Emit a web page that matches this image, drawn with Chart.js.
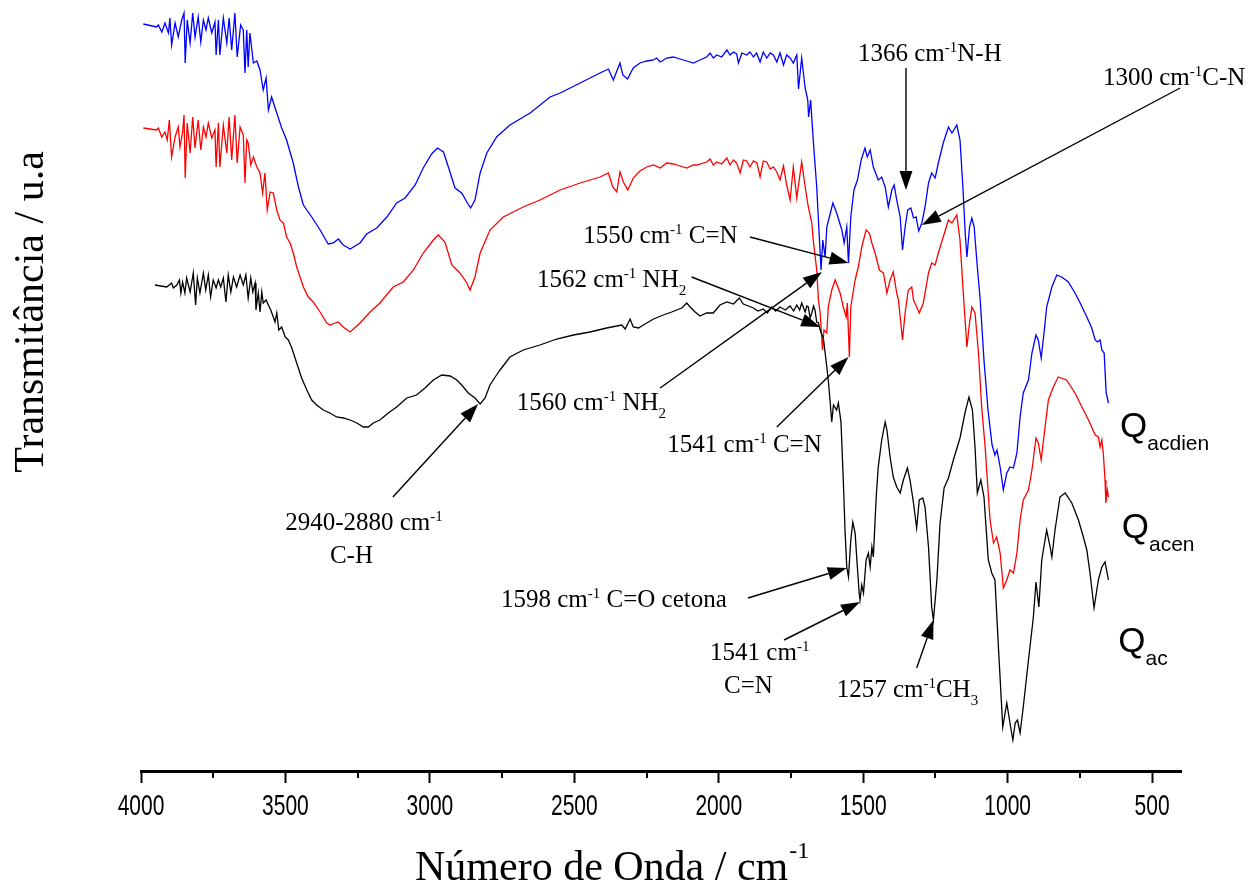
<!DOCTYPE html>
<html>
<head>
<meta charset="utf-8">
<title>FTIR - Qac, Qacen, Qacdien</title>
<script src="https://cdn.jsdelivr.net/npm/chart.js@4.4.1/dist/chart.umd.min.js"></script>
<style>
  html, body { margin: 0; padding: 0; background: #fff; }
  #wrap { width: 1251px; height: 889px; }
</style>
</head>
<body>
<div id="wrap"><canvas id="ftirChart"></canvas></div>
<script>
// FTIR spectra (transmittance, arbitrary units, curves offset vertically)

const xTicks = [4000, 3500, 3000, 2500, 2000, 1500, 1000, 500];
const xMinorTicks = [3750, 3250, 2750, 2250, 1750, 1250, 750];

// Qacdien (blue)
const qacdienWn = [
  3992, 3946, 3940, 3928, 3917, 3905, 3900, 3894, 3882, 3871,
  3859, 3851, 3847, 3840, 3830, 3821, 3813, 3802, 3793, 3784,
  3775, 3767, 3755, 3744, 3740, 3732, 3727, 3715, 3703, 3695,
  3686, 3675, 3667, 3655, 3646, 3640, 3634, 3629, 3623, 3611,
  3599, 3588, 3577, 3567, 3559, 3548, 3530, 3513, 3496, 3473,
  3455, 3438, 3409, 3380, 3352, 3334, 3317, 3300, 3276, 3242,
  3219, 3184, 3149, 3115, 3086, 3051, 3023, 2994, 2974, 2953,
  2936, 2913, 2890, 2872, 2859, 2844, 2826, 2803, 2769, 2723,
  2653, 2584, 2549, 2480, 2411, 2382, 2365, 2342, 2332, 2316,
  2296,
  2273, 2249, 2226, 2215, 2203, 2180, 2157, 2134, 2111, 2088,
  2065, 2042, 2030, 2019, 2007, 1990, 1972, 1961, 1949, 1938,
  1932, 1920, 1903, 1892, 1880, 1869, 1857, 1846, 1834, 1822,
  1811, 1799, 1788, 1776, 1765, 1753, 1742, 1730, 1724, 1713,
  1701,
  1692, 1689, 1682, 1673, 1661, 1652, 1646, 1640, 1632, 1626,
  1605, 1592, 1574, 1566, 1557, 1551, 1543, 1532, 1520, 1507,
  1494, 1486, 1476, 1465, 1448, 1436, 1424, 1413, 1401, 1393,
  1384, 1372, 1364, 1355, 1346, 1335, 1326, 1317, 1308, 1297,
  1286, 1274, 1263, 1251, 1240, 1223, 1205, 1193, 1176, 1165,
  1155, 1147, 1141, 1132, 1124, 1116, 1105, 1095, 1082, 1068,
  1054, 1044, 1037, 1026, 1015, 1003, 992, 980, 968, 957,
  946, 928, 916, 902, 894, 884, 873, 865, 847, 830,
  813, 790, 767, 749, 726, 709, 697, 689, 680, 674,
  666, 659, 651
];
const qacdienT = [
  74.7, 74.4, 74.6, 73.9, 74.8, 73.8, 75.3, 72.6, 74.8, 73.4,
  75.1, 75.8, 70.8, 75.1, 72.8, 75.8, 73.4, 75.4, 72.9, 75.1,
  74.1, 75.3, 73.8, 74.9, 71.6, 75.1, 71.6, 75.3, 72.8, 75.3,
  72.1, 75.8, 71.4, 74.6, 74.1, 69.8, 74.1, 70.4, 73.8, 70.8,
  71.0, 70.1, 68.1, 69.3, 66.1, 67.4, 65.8, 64.3, 63.1, 60.8,
  58.4, 56.6, 55.4, 54.1, 52.7, 52.8, 53.2, 52.6, 52.2, 52.8,
  53.7, 54.3, 55.4, 56.8, 57.3, 58.6, 60.3, 61.7, 62.3, 61.9,
  60.4, 58.3, 57.8, 56.9, 56.3, 57.1, 59.8, 61.8, 63.4, 64.6,
  65.8, 67.4, 67.8, 68.8, 69.8, 70.2, 69.1, 70.8, 69.6, 69.2,
  70.3,
  70.8, 71.0, 71.1, 71.3, 70.9, 71.3, 71.4, 71.2, 71.0, 70.8,
  71.1, 71.4, 71.8, 71.3, 71.6, 71.4, 72.1, 71.6, 71.9, 71.7,
  70.8, 71.8, 71.6, 71.9, 71.4, 71.8, 70.9, 71.9, 71.3, 71.8,
  71.6, 70.9, 71.8, 70.6, 71.6, 71.3, 70.8, 71.6, 68.2, 71.3,
  68.3,
  67.1, 65.4, 67.1, 63.1, 58.4, 53.4, 50.1, 53.1, 51.4, 54.4,
  56.8, 55.8, 54.1, 52.8, 54.4, 50.8, 55.4, 58.1, 59.1, 61.1,
  62.3, 61.4, 62.1, 60.4, 59.1, 59.4, 58.4, 56.4, 58.1, 58.6,
  57.1, 55.4, 52.1, 54.4, 56.1, 56.3, 55.3, 55.4, 54.0, 54.8,
  56.4, 58.8, 59.8, 59.3, 60.8, 62.8, 64.4, 63.8, 64.6, 63.1,
  58.4, 53.8, 51.4, 54.4, 55.3, 54.4, 50.4, 47.1, 41.1, 36.1,
  32.6, 31.6, 32.1, 30.4, 28.1, 29.8, 30.4, 30.3, 31.8, 35.4,
  37.8, 39.1, 41.8, 43.6, 43.1, 41.3, 44.1, 46.4, 48.4, 49.6,
  49.4, 48.9, 47.8, 46.8, 45.4, 44.3, 43.1, 42.9, 43.1, 42.1,
  41.8, 37.8, 36.8
];

// Qacen (red)
const qacenWn = [
  3992, 3946, 3940, 3928, 3917, 3909, 3902, 3894, 3882, 3871,
  3865, 3856, 3851, 3847, 3840, 3830, 3821, 3813, 3802, 3793,
  3784, 3775, 3767, 3755, 3744, 3740, 3732, 3727, 3715, 3703,
  3695, 3686, 3675, 3667, 3657, 3646, 3640, 3634, 3629, 3620,
  3611, 3599, 3588, 3579, 3571, 3563, 3553, 3542, 3530, 3519,
  3507, 3496, 3484, 3473, 3461, 3438, 3421, 3404, 3380, 3357,
  3346, 3328, 3317, 3300, 3276, 3242, 3207, 3173, 3127, 3092,
  3057, 3023, 2988, 2971, 2948, 2924, 2896, 2872, 2861, 2844,
  2826, 2792, 2746, 2677, 2619, 2549, 2480, 2411, 2382, 2367,
  2353, 2342, 2330, 2315, 2296,
  2273, 2249, 2226, 2203, 2180, 2157, 2145, 2111, 2088, 2076,
  2042, 2030, 2019, 2007, 1990, 1972, 1961, 1949, 1938, 1926,
  1915, 1903, 1892, 1880, 1868, 1857, 1846, 1834, 1822, 1811,
  1799, 1788, 1776, 1765, 1753, 1742, 1730, 1713, 1701,
  1690, 1678,
  1673, 1661, 1655, 1649, 1641, 1636, 1626, 1621, 1609, 1597,
  1580, 1569, 1559, 1555, 1548, 1543, 1528, 1517, 1505, 1490,
  1479, 1470, 1459, 1444, 1430, 1418, 1407, 1396, 1384, 1378,
  1364, 1355, 1344, 1332, 1326, 1315, 1306, 1292, 1274, 1263,
  1251, 1240, 1223, 1205, 1193, 1176, 1165, 1155, 1141, 1132,
  1124, 1113, 1101, 1090, 1078, 1061, 1049, 1038, 1026, 1015,
  1003, 992, 980, 968, 957, 946, 928, 916, 902, 894,
  884, 873, 859, 842, 825, 796, 767, 743, 720, 697,
  686, 680, 674, 669, 663, 660, 655, 651
];
const qacenT = [
  64.3, 64.1, 64.3, 63.4, 63.9, 63.1, 65.1, 61.4, 63.4, 64.4,
  62.4, 63.9, 65.6, 59.3, 64.8, 61.8, 65.4, 62.3, 65.1, 62.1,
  64.4, 63.4, 64.8, 63.3, 64.1, 60.4, 64.8, 60.4, 64.6, 61.8,
  65.4, 61.1, 65.6, 60.8, 64.4, 63.6, 58.8, 63.1, 62.8, 60.6,
  61.4, 60.4, 59.8, 57.8, 59.8, 56.1, 57.9, 57.8, 56.1, 55.1,
  54.8, 53.4, 52.8, 51.8, 50.4, 48.4, 47.4, 46.9, 45.9, 44.8,
  44.6, 44.8, 44.9, 44.4, 43.9, 44.8, 45.9, 46.8, 48.4, 48.9,
  50.1, 51.8, 53.1, 53.6, 52.9, 50.6, 49.8, 48.8, 48.1, 49.4,
  51.8, 54.1, 55.4, 56.4, 57.1, 58.1, 58.8, 59.4, 59.8, 58.4,
  57.9, 59.9, 58.9, 58.1, 59.3,
  60.0, 60.4, 60.6, 60.3, 60.8, 60.7, 60.6, 60.3, 60.6, 60.6,
  60.9, 61.2, 60.6, 60.9, 60.7, 61.3, 60.6, 61.1, 60.8, 59.8,
  61.1, 61.0, 60.4, 61.0, 60.8, 59.4, 61.0, 60.9, 60.2, 60.4,
  59.9, 59.1, 60.5, 58.6, 57.1, 60.4, 57.3, 60.9, 58.4,
  56.4, 54.8,
  53.1, 50.1, 47.1, 45.8, 42.1, 44.1, 43.8, 46.4, 48.1, 49.1,
  47.8, 46.4, 45.4, 46.8, 41.4, 46.4, 49.1, 50.4, 52.4, 54.1,
  53.8, 52.8, 51.8, 50.1, 49.8, 47.8, 49.1, 49.9, 47.8, 47.1,
  43.1, 45.8, 48.1, 48.4, 47.1, 46.4, 45.8, 46.8, 49.8, 50.8,
  50.6, 51.8, 53.4, 55.1, 54.8, 55.6, 53.1, 48.4, 42.4, 44.8,
  46.4, 45.8, 41.8, 36.4, 32.4, 25.1, 22.8, 23.4, 21.8, 18.3,
  19.1, 20.1, 19.8, 21.8, 25.1, 27.1, 28.1, 30.1, 33.3, 32.8,
  31.1, 33.8, 37.1, 38.4, 39.4, 39.1, 37.8, 36.4, 35.1, 33.6,
  33.4, 32.4, 33.1, 31.8, 29.1, 26.8, 28.1, 27.4
];

// Qac (black)
const qacWn = [
  3952, 3911, 3894, 3888, 3876, 3867, 3862, 3856, 3848, 3842,
  3830, 3819, 3811, 3805, 3796, 3784, 3776, 3767, 3759, 3750,
  3740, 3732, 3724, 3715, 3706, 3698, 3689, 3680, 3669, 3657,
  3646, 3637, 3629, 3620, 3613, 3605, 3602, 3594, 3588, 3582,
  3577, 3567, 3559, 3551, 3542, 3536, 3530, 3523, 3513, 3501,
  3490, 3478, 3461, 3444, 3426, 3409, 3392, 3369, 3346, 3323,
  3300, 3276, 3253, 3230, 3213, 3196, 3173, 3144, 3115, 3080,
  3046, 3017, 2988, 2959, 2930, 2907, 2890, 2867, 2844, 2826,
  2809, 2792, 2774, 2757, 2723, 2677, 2619, 2561, 2503, 2446,
  2388, 2336, 2324, 2307, 2296, 2278, 2261, 2226, 2192, 2163,
  2128, 2111, 2099, 2082, 2065, 2042, 2019, 1996, 1972, 1949,
  1929, 1915,
  1880, 1864, 1846, 1832, 1817, 1803, 1788, 1770, 1753, 1741,
  1730, 1720, 1713, 1701, 1695, 1690, 1684, 1678, 1672, 1667,
  1661, 1655,
  1647, 1638, 1626, 1621, 1615, 1609,
  1603, 1592, 1586, 1577, 1569, 1563, 1557, 1551, 1543, 1536,
  1528, 1522, 1514, 1511, 1505, 1499, 1490, 1482, 1476, 1470,
  1465, 1455, 1448, 1436, 1424, 1418, 1407, 1396, 1384, 1372,
  1361, 1347, 1338, 1326, 1315, 1306, 1294, 1286, 1274, 1263,
  1257, 1245, 1234, 1220, 1205, 1188, 1165, 1147, 1134, 1122,
  1113, 1105, 1093, 1082, 1067, 1055, 1044, 1032, 1017, 1003,
  992, 982, 974, 966, 957, 946, 928, 911, 902, 892,
  882, 865, 853, 847, 836, 819, 801, 778, 755, 738,
  726, 715, 701, 686, 674, 663, 651
];
const qacT = [
  48.6, 48.4, 48.8, 48.3, 48.6, 49.1, 47.8, 48.9, 47.8, 49.3,
  47.9, 49.8, 46.6, 49.3, 47.8, 49.8, 48.1, 49.6, 47.4, 49.1,
  48.3, 49.1, 48.4, 49.3, 46.9, 49.6, 47.9, 49.4, 48.4, 49.6,
  48.6, 49.6, 47.3, 49.3, 47.9, 48.8, 46.1, 47.8, 45.9, 47.9,
  46.8, 47.1, 46.6, 46.1, 45.4, 44.9, 45.8, 44.1, 44.4, 43.4,
  43.1, 42.3, 40.8, 39.3, 38.1, 37.1, 36.6, 36.1, 35.8, 35.4,
  35.3, 35.1, 34.8, 34.4, 34.4, 34.8, 35.1, 35.8, 36.4, 37.3,
  37.6, 38.3, 39.1, 39.6, 39.5, 39.1, 38.6, 37.8, 37.3, 36.7,
  37.3, 38.6, 39.4, 40.1, 41.4, 42.1, 42.6, 43.2, 43.6, 43.9,
  44.3, 44.6, 44.2, 45.2, 44.4, 44.3, 44.6, 45.2, 45.6, 45.9,
  46.3, 46.8, 46.4, 45.9, 45.5, 45.8, 45.8, 46.6, 46.9, 46.7,
  47.3, 46.7,
  46.3, 46.0, 46.2, 45.8, 46.4, 46.0, 46.4, 46.1, 46.5, 46.0,
  46.6, 46.1, 46.8, 45.9, 46.5, 46.4, 45.3, 45.8, 46.5, 46.1,
  44.9, 44.8,
  43.9, 43.3, 40.4, 39.1, 37.1, 34.9,
  36.6, 36.1, 36.8, 34.9, 29.1, 24.1, 20.4, 19.4, 23.1, 24.9,
  23.8, 21.1, 17.8, 17.1, 18.6, 17.8, 21.1, 21.8, 20.4, 22.4,
  21.4, 27.4, 30.4, 33.1, 34.9, 34.1, 31.4, 29.4, 28.4, 27.8,
  29.1, 30.3, 29.1, 26.8, 24.3, 27.1, 27.3, 26.4, 22.4, 16.4,
  15.1, 19.1, 24.8, 28.3, 29.3, 31.1, 33.3, 35.9, 37.4, 36.1,
  32.4, 27.8, 29.1, 27.4, 21.1, 19.8, 19.1, 12.4, 4.4, 6.8,
  4.8, 3.1, 4.8, 5.1, 3.8, 6.4, 11.1, 15.4, 18.9, 16.4,
  21.1, 24.1, 22.4, 21.4, 24.1, 27.4, 27.8, 26.8, 25.1, 23.4,
  22.1, 19.8, 16.3, 19.1, 20.4, 20.9, 19.1
];

// band assignments: text anchored at [wavenumber, T] (left edge, baseline)
const bandLabels = [
  { at: [1518, 71.0], parts: [['1366 cm'], ['-1', 'sup'], ['N-H']] },
  { at: [670, 68.6], parts: [['1300 cm'], ['-1', 'sup'], ['C-N']] },
  { at: [2469, 52.8], parts: [['1550 cm'], ['-1', 'sup'], [' C=N']] },
  { at: [2629, 48.4], parts: [['1562 cm'], ['-1', 'sup'], [' NH'], ['2', 'sub']] },
  { at: [2699, 36.1], parts: [['1560 cm'], ['-1', 'sup'], [' NH'], ['2', 'sub']] },
  { at: [2178, 31.9], parts: [['1541 cm'], ['-1', 'sup'], [' C=N']] },
  { at: [3501, 24.1], parts: [['2940-2880 cm'], ['-1', 'sup']] },
  { at: [3346, 20.8], parts: [['C-H']] },
  { at: [2754, 16.4], parts: [['1598 cm'], ['-1', 'sup'], [' C=O cetona']] },
  { at: [2030, 11.1], parts: [['1541 cm'], ['-1', 'sup']] },
  { at: [1982, 7.8], parts: [['C=N']] },
  { at: [1592, 7.4], parts: [['1257 cm'], ['-1', 'sup'], ['CH'], ['3', 'sub']] }
];

// arrows: tail -> head, both in [wavenumber, T]
const bandArrows = [
  { from: [1352, 70.3], to: [1352, 58.1] },
  { from: [403, 68.3], to: [1297, 54.6] },
  { from: [1892, 53.4], to: [1551, 50.8] },
  { from: [2094, 49.4], to: [1649, 44.4] },
  { from: [2203, 38.3], to: [1643, 49.9] },
  { from: [1799, 34.4], to: [1551, 41.4] },
  { from: [3128, 27.4], to: [2833, 36.7] },
  { from: [1899, 17.3], to: [1557, 20.3] },
  { from: [1774, 13.1], to: [1511, 16.9] },
  { from: [1315, 10.3], to: [1257, 15.1] }
];

// sample names next to the curve ends
const sampleNames = [
  { at: [611, 33.4], main: 'Q', sub: 'acdien' },
  { at: [605, 23.3], main: 'Q', sub: 'acen' },
  { at: [617, 11.9], main: 'Q', sub: 'ac' }
];

const SERIF = '"Liberation Serif", "Times New Roman", serif';
const SANS = '"Liberation Sans", Arial, sans-serif';

function toPoints(wn, t) {
  return wn.map((w, i) => ({ x: w, y: t[i] }));
}

// draws text with superscript / subscript pieces, returns end x
function drawRich(ctx, x, y, parts, size) {
  const small = Math.round(size * 0.6);
  let cx = x;
  parts.forEach(([text, kind]) => {
    let dy = 0;
    if (kind === 'sup') {
      ctx.font = small + 'px ' + SERIF;
      dy = -size * 0.38;
    } else if (kind === 'sub') {
      ctx.font = small + 'px ' + SERIF;
      dy = size * 0.3;
    } else {
      ctx.font = size + 'px ' + SERIF;
    }
    ctx.fillText(text, cx, y + dy);
    cx += ctx.measureText(text).width;
  });
  return cx;
}

function drawArrow(ctx, x1, y1, x2, y2) {
  const ang = Math.atan2(y2 - y1, x2 - x1);
  const len = 19, half = 6.5;
  const bx = x2 - len * Math.cos(ang);
  const by = y2 - len * Math.sin(ang);
  ctx.beginPath();
  ctx.moveTo(x1, y1);
  ctx.lineTo(bx, by);
  ctx.lineWidth = 1.4;
  ctx.stroke();
  ctx.beginPath();
  ctx.moveTo(x2, y2);
  ctx.lineTo(bx + half * Math.sin(ang), by - half * Math.cos(ang));
  ctx.lineTo(bx - half * Math.sin(ang), by + half * Math.cos(ang));
  ctx.closePath();
  ctx.fill();
}

const decorations = {
  id: 'decorations',
  afterDraw(chart) {
    const { ctx, chartArea, scales } = chart;
    const px = v => scales.x.getPixelForValue(v);
    const py = v => scales.y.getPixelForValue(v);
    ctx.save();
    ctx.fillStyle = '#000';
    ctx.strokeStyle = '#000';

    // minor ticks
    ctx.lineWidth = 2;
    xMinorTicks.forEach(v => {
      const x = Math.round(px(v));
      ctx.beginPath();
      ctx.moveTo(x, chartArea.bottom);
      ctx.lineTo(x, chartArea.bottom + 7);
      ctx.stroke();
    });

    // tick labels, condensed sans like the original export
    ctx.textAlign = 'center';
    ctx.textBaseline = 'alphabetic';
    scales.x.ticks.forEach(t => {
      ctx.save();
      ctx.translate(px(t.value), chartArea.bottom + 44);
      ctx.scale(0.7, 1);
      ctx.font = '30px ' + SANS;
      ctx.fillText(String(t.value), 0, 0);
      ctx.restore();
    });

    // axis titles
    ctx.textAlign = 'left';
    const xt = 'Número de Onda / cm';
    ctx.font = '42px ' + SERIF;
    const xtw = ctx.measureText(xt).width;
    const xtLeft = 415;
    ctx.fillText(xt, xtLeft, 880);
    ctx.font = '24px ' + SERIF;
    ctx.fillText('-1', xtLeft + xtw + 1, 858);

    ctx.save();
    ctx.translate(43, 312);
    ctx.rotate(-Math.PI / 2);
    ctx.textAlign = 'center';
    ctx.font = '42px ' + SERIF;
    ctx.fillText('Transmitância / u.a', 0, 0);
    ctx.restore();

    // band assignments
    bandArrows.forEach(a => {
      drawArrow(ctx, px(a.from[0]), py(a.from[1]), px(a.to[0]), py(a.to[1]));
    });
    bandLabels.forEach(l => {
      drawRich(ctx, px(l.at[0]), py(l.at[1]), l.parts, 25);
    });

    // sample names
    sampleNames.forEach(s => {
      const x = px(s.at[0]), y = py(s.at[1]);
      ctx.font = '35px ' + SANS;
      ctx.fillText(s.main, x, y);
      const w = ctx.measureText(s.main).width;
      ctx.font = '21px ' + SANS;
      ctx.fillText(s.sub, x + w, y + 13);
    });
    ctx.restore();
  }
};

const ctx = document.getElementById('ftirChart');
new Chart(ctx, {
  type: 'line',
  data: {
    datasets: [
      {
        label: 'Qac',
        data: toPoints(qacWn, qacT),
        borderColor: '#000000',
        borderWidth: 1.3,
        pointRadius: 0,
        tension: 0
      },
      {
        label: 'Qacen',
        data: toPoints(qacenWn, qacenT),
        borderColor: '#ff0000',
        borderWidth: 1.3,
        pointRadius: 0,
        tension: 0
      },
      {
        label: 'Qacdien',
        data: toPoints(qacdienWn, qacdienT),
        borderColor: '#0000ff',
        borderWidth: 1.3,
        pointRadius: 0,
        tension: 0
      }
    ]
  },
  options: {
    responsive: true,
    maintainAspectRatio: false,
    animation: false,
    devicePixelRatio: 1,
    layout: { padding: { left: 141, right: 70, top: 0, bottom: 0 } },
    plugins: {
      legend: { display: false },
      tooltip: { enabled: false }
    },
    scales: {
      x: {
        type: 'linear',
        reverse: true,
        min: 400,
        max: 4000,
        afterBuildTicks: scale => {
          scale.ticks = xTicks.map(v => ({ value: v }));
        },
        afterFit: scale => {
          scale.height = 118;
        },
        ticks: { display: false },
        grid: {
          drawOnChartArea: false,
          drawTicks: true,
          tickLength: 12,
          tickWidth: 2,
          tickColor: '#000'
        },
        border: { display: true, color: '#000', width: 3 }
      },
      y: {
        display: false,
        min: 0,
        max: 77.1
      }
    }
  },
  plugins: [decorations]
});
</script>
</body>
</html>
